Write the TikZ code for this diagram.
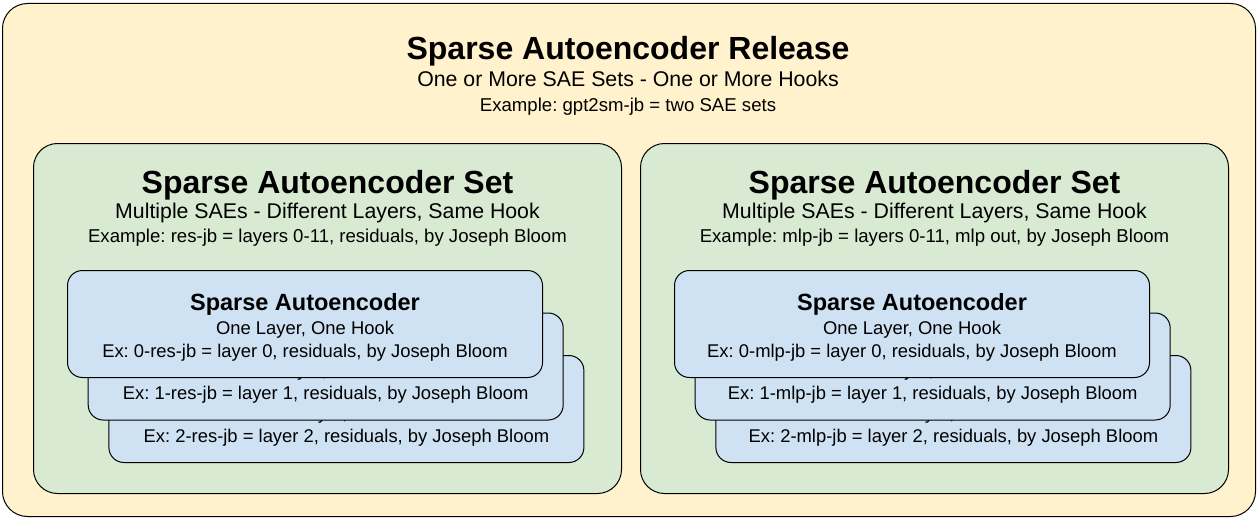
\documentclass[tikz,border=0pt]{standalone}
\usepackage{fontspec}
\setmainfont{Liberation Sans}
\usepackage{xcolor}
\usetikzlibrary{positioning,calc}
\frenchspacing

\definecolor{releasefill}{HTML}{FFF2CC}
\definecolor{setfill}{HTML}{D9EAD3}
\definecolor{saefill}{HTML}{CFE2F3}

\begin{document}
\begin{tikzpicture}[x=1pt, y=-1pt, line width=1pt,
  box/.style={draw, anchor=north west, inner sep=0pt},
  releasebox/.style={box, fill=releasefill, rounded corners=25pt, minimum width=1253pt, minimum height=513pt},
  setbox/.style={box, fill=setfill, rounded corners=24pt, minimum width=588pt, minimum height=350pt},
  saebox/.style={box, fill=saefill, rounded corners=15pt, minimum width=475pt, minimum height=107pt},
  txt/.style={anchor=base, inner sep=0pt},
  bigtitle/.style={txt, font=\fontsize{32}{38}\selectfont\bfseries},
  subline/.style={txt, font=\fontsize{21.3}{25}\selectfont},
  exline/.style={txt, font=\fontsize{18.6}{22}\selectfont},
  saetitle/.style={txt, font=\fontsize{23.5}{28}\selectfont\bfseries},
  saeline/.style={txt, font=\fontsize{18.4}{22}\selectfont}]
\useasboundingbox (0,0) rectangle (1259,527);

% release
\node[releasebox] (rel) at (2,3) {};
\node[bigtitle] (reltitle) at (628,60) {Sparse Autoencoder Release};
\node[subline] (relsub) at (628,87) {One or More SAE Sets - One or More Hooks};
\node[exline] (relex) at (628,111) {Example: gpt2sm-jb = two SAE sets};

% sets
\foreach \sx/\name/\desc in {33/res/{residuals},640/mlp/{mlp out}}{
  \node[setbox] (set-\name) at (\sx,143) {};
  \node[bigtitle] at ($(set-\name.north)+(0,50)$) {Sparse Autoencoder Set};
  \node[subline] at ($(set-\name.north)+(0,75)$) {Multiple SAEs - Different Layers, Same Hook};
  \node[exline] at ($(set-\name.north)+(0,99)$) {Example: \name-jb = layers 0-11, \desc, by Joseph Bloom};
  % stacked SAEs, back one first
  \foreach \k in {2,1,0}{
    \node[saebox] (sae-\name-\k) at ($(set-\name.north west)+(34+20.7*\k,127+42.5*\k)$) {};
    \node[saetitle] at ($(sae-\name-\k.north)+(0,40)$) {Sparse Autoencoder};
    \node[saeline] at ($(sae-\name-\k.north)+(0,64)$) {One Layer, One Hook};
    \node[saeline] at ($(sae-\name-\k.north)+(0,87)$) {Ex: \k-\name-jb = layer \k, residuals, by Joseph Bloom};
  }
}
\end{tikzpicture}
\end{document}
